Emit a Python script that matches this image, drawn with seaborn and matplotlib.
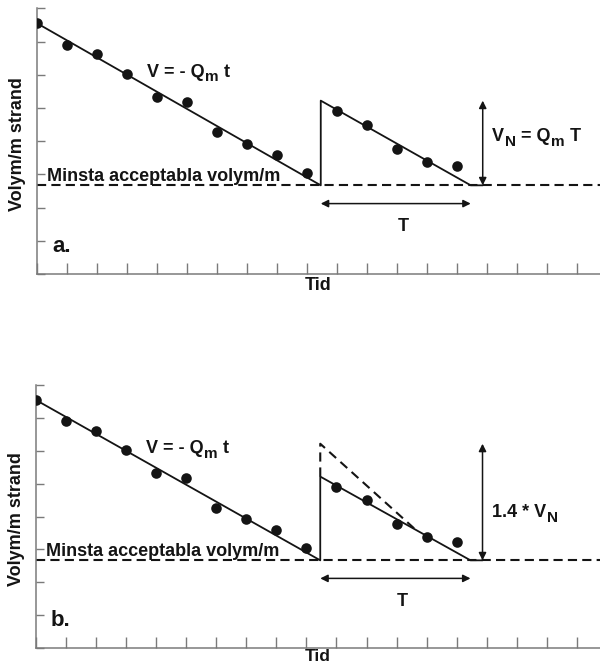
import matplotlib
matplotlib.use("Agg")
import matplotlib.pyplot as plt
import seaborn as sns
import pandas as pd

# ---- data ----
t_first = [0, 1, 2, 3, 4, 5, 6, 7, 8, 9]
v_first = [7.55, 6.9, 6.62, 6.02, 5.32, 5.17, 4.27, 3.92, 3.59, 3.04]
t_second = [10, 11, 12, 13, 14]
v_second = [4.9, 4.5, 3.77, 3.37, 3.24]

saw_t = [0, 9.46, 9.46, 14.46, 14.86]
saw_v = [7.55, 2.67, 5.22, 2.67, 2.67]

min_level = 2.67
refill_t = 9.46
refill_end_t = 14.46
arrow_t = 14.86
vn_top = 5.22

# panel b: refill with 1.4 * V_N (dashed)
big_t = [9.46, 9.46, 12.6]
big_v = [5.22, 6.22, 3.63]
big_top = 6.22

panel_labels = ["a.", "b."]
ylabel_text = "Volym/m strand"
xlabel_text = "Tid"
min_text = "Minsta acceptabla volym/m"
# (text, is_subscript, gap-before in points)
law_parts = [("V = - Q", False, 0), ("m", True, 0.4), ("t", False, 3.6)]
vn_parts = [
    [("V", False, 0), ("N", True, 0.4), ("= Q", False, 3.6),
     ("m", True, 0.4), ("T", False, 3.6)],
    [("1.4 * V", False, 0), ("N", True, 0.4)],
]

# ---- style ----
sns.set_theme(style="ticks")
plt.rcParams["font.family"] = ["Liberation Sans", "DejaVu Sans"]
plt.rcParams["font.weight"] = "bold"

INK = "#141414"
AX = "#7a7a7a"
FS = 13
SUB_FS = 11

pts = pd.DataFrame({"t": t_first + t_second, "v": v_first + v_second})
saw = pd.DataFrame({"t": saw_t, "v": saw_v})
big = pd.DataFrame({"t": big_t, "v": big_v})


def rich_text(ax, x, y, parts):
    base = ax.text(x, y, parts[0][0], fontsize=FS, ha="left",
                   va="baseline", color=INK, fontweight="bold")
    prev = base
    for s, sub, gap in parts[1:]:
        if sub:
            a = ax.annotate(s, xy=(1, 0), xycoords=(prev, base),
                            xytext=(gap, -2.6), textcoords="offset points",
                            fontsize=SUB_FS, ha="left", va="bottom",
                            color=INK, fontweight="bold")
        else:
            a = ax.annotate(s, xy=(1, 0), xycoords=(prev, base),
                            xytext=(gap, 0), textcoords="offset points",
                            fontsize=FS, ha="left", va="bottom",
                            color=INK, fontweight="bold")
        prev = a
    return base


fig = plt.figure(figsize=(6, 6.66), dpi=100)
ax_a = fig.add_axes([0.0617, 0.5886, 0.9383, 0.3989])
ax_b = fig.add_axes([0.0600, 0.0270, 0.9400, 0.3945])

for i, ax in enumerate([ax_a, ax_b]):
    sns.lineplot(data=saw, x="t", y="v", sort=False, estimator=None,
                 color=INK, lw=1.3, ax=ax)
    if i == 1:
        sns.lineplot(data=big, x="t", y="v", sort=False, estimator=None,
                     color=INK, lw=1.5, ax=ax, dashes=False,
                     linestyle=(0, (4.4, 2.8)))
    sns.scatterplot(data=pts, x="t", y="v", s=58, color=INK,
                    edgecolor=INK, linewidth=0, ax=ax, zorder=3)
    ax.axhline(min_level, color=INK, lw=1.5, linestyle=(0, (4.4, 2.5)))

    # double arrows
    top = vn_top if i == 0 else big_top
    ax.annotate("", xy=(arrow_t, top), xytext=(arrow_t, min_level),
                arrowprops=dict(arrowstyle="<|-|>", color=INK, lw=1.1,
                                mutation_scale=11, shrinkA=0, shrinkB=0))
    ax.annotate("", xy=(refill_end_t, 2.12), xytext=(refill_t, 2.12),
                arrowprops=dict(arrowstyle="<|-|>", color=INK, lw=1.1,
                                mutation_scale=11, shrinkA=0, shrinkB=0))

    ax.text(12.2, 1.28, "T", fontsize=FS, ha="center", va="baseline",
            color=INK, fontweight="bold")
    rich_text(ax, 3.67, 5.94, law_parts)
    ax.text(0.33, 2.79, min_text, fontsize=FS, ha="left", va="baseline",
            color=INK, fontweight="bold")
    ax.text(0.5, 0.66, panel_labels[i], fontsize=16, ha="left",
            va="baseline", color=INK, fontweight="bold")
    rich_text(ax, 15.17, 3.99, vn_parts[i])

    ax.set_xlim(0, 18.77)
    ax.set_ylim(0, 8)
    ax.set_xticks(range(0, 19))
    ax.set_yticks(range(0, 9))
    ax.set_xticklabels([])
    ax.set_yticklabels([])
    ax.tick_params(axis="x", direction="in", length=8, width=1, color=AX)
    ax.tick_params(axis="y", direction="in", length=6, width=1, color=AX)
    sns.despine(ax=ax)
    for s in ["left", "bottom"]:
        ax.spines[s].set_color(AX)
        ax.spines[s].set_linewidth(1.1)

    ax.set_ylabel(ylabel_text, fontsize=FS, fontweight="bold", color=INK)
    ax.yaxis.label.set_va("center")
    ax.yaxis.set_label_coords(-0.035, 0.49)
    ax.set_xlabel(xlabel_text, fontsize=FS if i == 0 else 12.5,
                  fontweight="bold", color=INK)
    ax.xaxis.label.set_va("top")
    ax.xaxis.set_label_coords(0.5, -0.012 if i == 0 else -0.004)

fig.savefig("out.png", dpi=100)
